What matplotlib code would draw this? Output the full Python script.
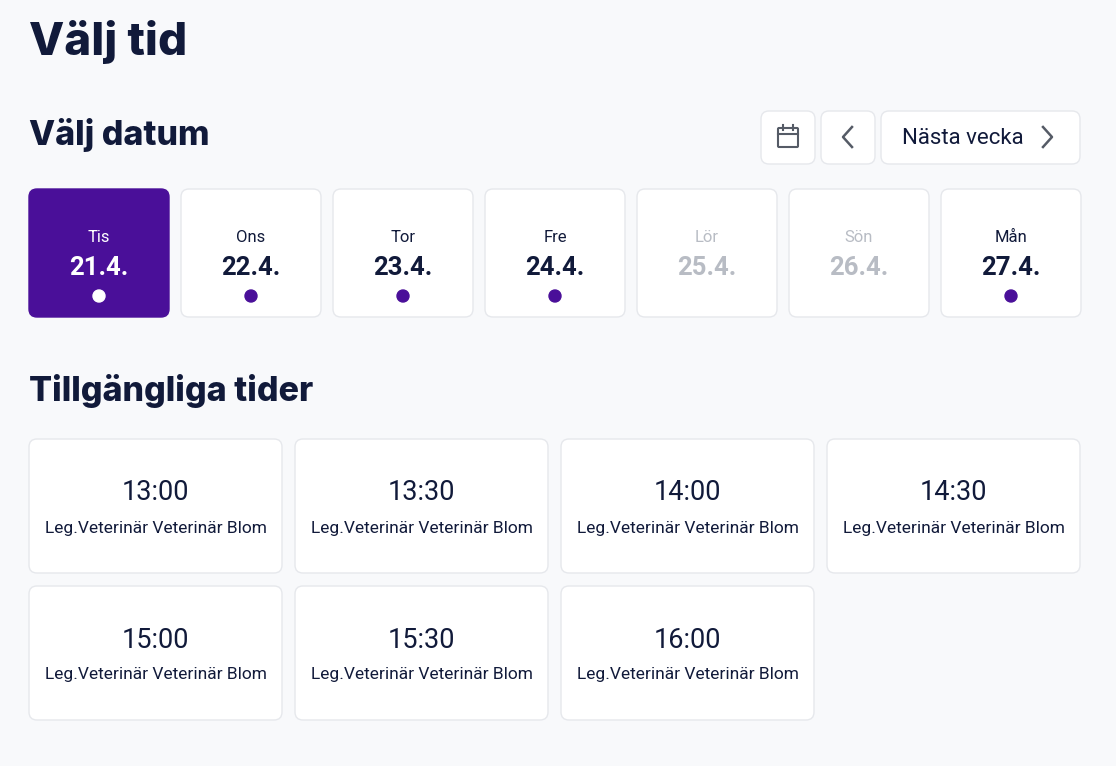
import matplotlib
matplotlib.use("Agg")
import matplotlib.pyplot as plt
from matplotlib.patches import FancyBboxPatch, Circle

days = ["Tis", "Ons", "Tor", "Fre", "Lör", "Sön", "Mån"]
dates = ["21.4.", "22.4.", "23.4.", "24.4.", "25.4.", "26.4.", "27.4."]
available = [True, True, True, True, False, False, True]
selected_index = 0
times = ["13:00", "13:30", "14:00", "14:30", "15:00", "15:30", "16:00"]
vet = "Leg.Veterinär Veterinär Blom"

BG = "#f8f9fb"
NAVY = "#111a3a"
PURPLE = "#4a0f99"
GREY = "#b8bcc4"
BORDER = "#e6e8ec"
HEAD = ["Inter", "DejaVu Sans"]
BODY = ["Roboto", "DejaVu Sans"]

fig = plt.figure(figsize=(11.16, 7.66), dpi=100, facecolor=BG)
ax = fig.add_axes([0, 0, 1, 1])
ax.set_xlim(0, 1116)
ax.set_ylim(766, 0)
ax.axis("off")

def card(x, y, w, h, fc="white", ec=BORDER, r=8):
    ax.add_patch(FancyBboxPatch((x + r, y + r), w - 2 * r, h - 2 * r,
                                boxstyle=f"round,pad={r}", fc=fc, ec=ec, lw=1))

ax.text(29, 42, "Välj tid", fontsize=33, fontweight="heavy", color=NAVY, va="center", family=HEAD)
ax.text(29, 135, "Välj datum", fontsize=24.5, fontweight="heavy", color=NAVY, va="center", family=HEAD)
ax.text(29, 391, "Tillgängliga tider", fontsize=24.5, fontweight="heavy", color=NAVY, va="center", family=HEAD)

card(761, 111, 54, 53)
card(821, 111, 54, 53)
card(881, 111, 199, 53)
ax.add_patch(FancyBboxPatch((779, 129), 18, 17, boxstyle="round,pad=1", fc="none", ec="#555b66", lw=1.5))
ax.plot([778, 798], [134, 134], color="#555b66", lw=1.5)
ax.plot([783, 783], [125, 130], color="#555b66", lw=1.5)
ax.plot([793, 793], [125, 130], color="#555b66", lw=1.5)
ax.plot([852, 843, 852], [127, 137, 147], color="#555b66", lw=1.8)
ax.plot([1043, 1052, 1043], [127, 137, 147], color="#555b66", lw=1.8)
ax.text(902, 138, "Nästa vecka", fontsize=16, color=NAVY, va="center", ha="left", family=BODY)

for i, (d, dt, av) in enumerate(zip(days, dates, available)):
    x = 29 + 152 * i
    sel = i == selected_index
    if sel:
        card(x, 189, 140, 128, fc=PURPLE, ec=PURPLE)
        c1 = "white"
    else:
        card(x, 189, 140, 128)
        c1 = NAVY if av else GREY
    cx = x + 70
    ax.text(cx, 237, d, fontsize=12, color=c1, ha="center", va="center", family=BODY)
    ax.text(cx, 268, dt, fontsize=18.5, fontweight="bold", color=c1, ha="center", va="center", family=BODY)
    if av:
        ax.add_patch(Circle((cx, 296), 6, color="white" if sel else PURPLE))

for i, t in enumerate(times):
    col, row = i % 4, i // 4
    x = 29 + 266 * col
    y = 439 + 147 * row
    card(x, y, 253, 134)
    cx = x + 126.5
    ax.text(cx, y + 54, t, fontsize=19.5, color=NAVY, ha="center", va="center", family=BODY)
    ax.text(cx, y + 89, vet, fontsize=12.5, color=NAVY, ha="center", va="center", family=BODY)

fig.savefig("out.png", dpi=100, facecolor=BG)
